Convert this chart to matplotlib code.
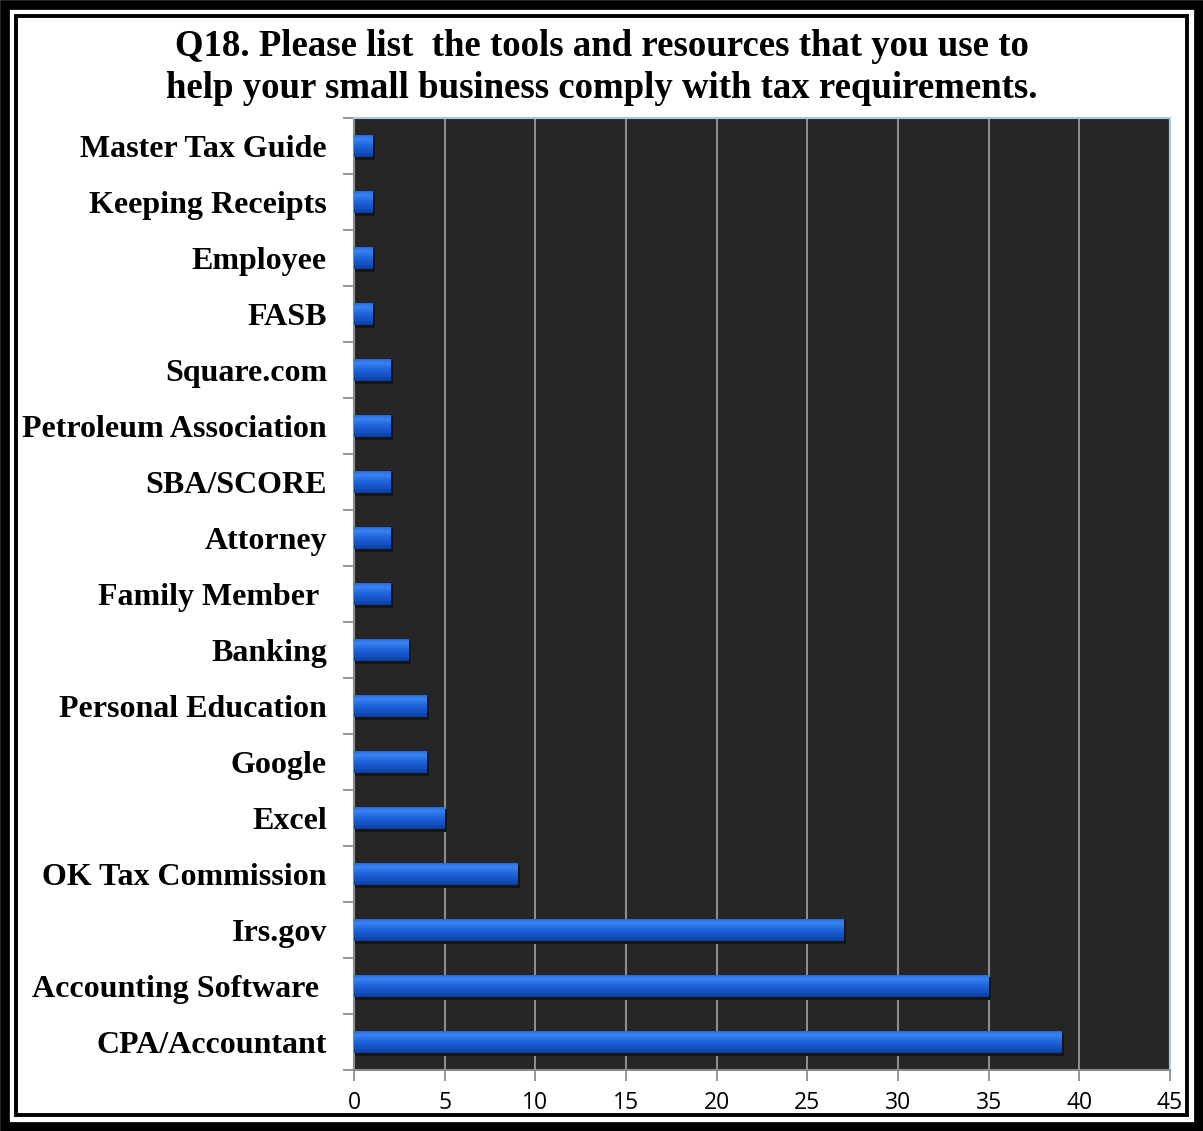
import matplotlib
matplotlib.use("Agg")
import matplotlib.pyplot as plt
import numpy as np
from matplotlib.colors import LinearSegmentedColormap
from matplotlib.patches import Rectangle

# survey answers, top row first
tools = ["Master Tax Guide", "Keeping Receipts", "Employee", "FASB", "Square.com",
         "Petroleum Association", "SBA/SCORE", "Attorney", "Family Member ",
         "Banking", "Personal Education", "Google", "Excel", "OK Tax Commission",
         "Irs.gov", "Accounting Software ", "CPA/Accountant"]
counts = [1, 1, 1, 1, 2, 2, 2, 2, 2, 3, 4, 4, 5, 9, 27, 35, 39]
xticks = [0, 5, 10, 15, 20, 25, 30, 35, 40, 45]

W, H = 1203, 1131
fig = plt.figure(figsize=(W / 100, H / 100), dpi=100)

# double frame round the whole figure
fig.patches.append(Rectangle((4.5 / W, 4.5 / H), 1 - 9 / W, 1 - 9 / H, transform=fig.transFigure,
                             fill=False, lw=7, ec="black"))
fig.patches.append(Rectangle((16 / W, 16 / H), 1 - 32 / W, 1 - 32 / H, transform=fig.transFigure,
                             fill=False, lw=2.8, ec="black"))

title_kw = dict(ha="center", va="center", family="Liberation Serif", weight="bold", fontsize=26.5)
fig.text(0.5, 1 - 46 / H, "Q18. Please list  the tools and resources that you use to", **title_kw)
fig.text(0.5, 1 - 89 / H, "help your small business comply with tax requirements.", **title_kw)

left, right, top, bottom = 354, 1170, 118, 1070
ax = fig.add_axes([left / W, 1 - bottom / H, (right - left) / W, (bottom - top) / H])
ax.set_facecolor("#262626")

y = list(range(len(tools)))[::-1]
h = 0.41
shade = LinearSegmentedColormap.from_list(
    "bevel", ["#0c3f9e", "#1550bf", "#1b5dd3", "#2670e4", "#3a84f0", "#1e62d6"])
grad = np.linspace(0, 1, 64).reshape(-1, 1)

# soft shadow under each bar
ax.barh([v - 0.05 for v in y], [c + 0.15 for c in counts], height=h, color="#151515",
        zorder=2)
bars = ax.barh(y, counts, height=h, color="#1b5dd3", zorder=3)
for b in bars:
    x0, y0, bw, bh = b.get_x(), b.get_y(), b.get_width(), b.get_height()
    im = ax.imshow(grad, cmap=shade, aspect="auto", origin="lower",
                   extent=(x0, x0 + bw, y0, y0 + bh), zorder=4)
    im.set_clip_path(b)

ax.set_xlim(0, 45)
ax.set_ylim(-0.5, len(tools) - 0.5)
ax.set_xticks(xticks)
ax.set_xticklabels([str(t) for t in xticks], family="Open Sans", fontsize=16.5)
ax.grid(axis="x", color="#8c8c8c", lw=1.5, zorder=1)
ax.set_axisbelow(True)

ax.set_yticks(y)
ax.set_yticklabels(tools, family="Liberation Serif", weight="bold", fontsize=23)
ax.tick_params(axis="y", length=0, pad=19.5)
ax.set_yticks([i - 0.5 for i in range(len(tools) + 1)], minor=True)
ax.tick_params(axis="y", which="minor", length=8, width=1.3, color="#8c8c8c")
ax.tick_params(axis="x", length=8, width=1.3, color="#8c8c8c", pad=7)

for s in ("left", "bottom"):
    ax.spines[s].set_color("#8c8c8c")
    ax.spines[s].set_linewidth(1.5)
for s in ("top", "right"):
    ax.spines[s].set_color("#a9c9ea")
    ax.spines[s].set_linewidth(1.5)

fig.savefig("out.png", dpi=100)
